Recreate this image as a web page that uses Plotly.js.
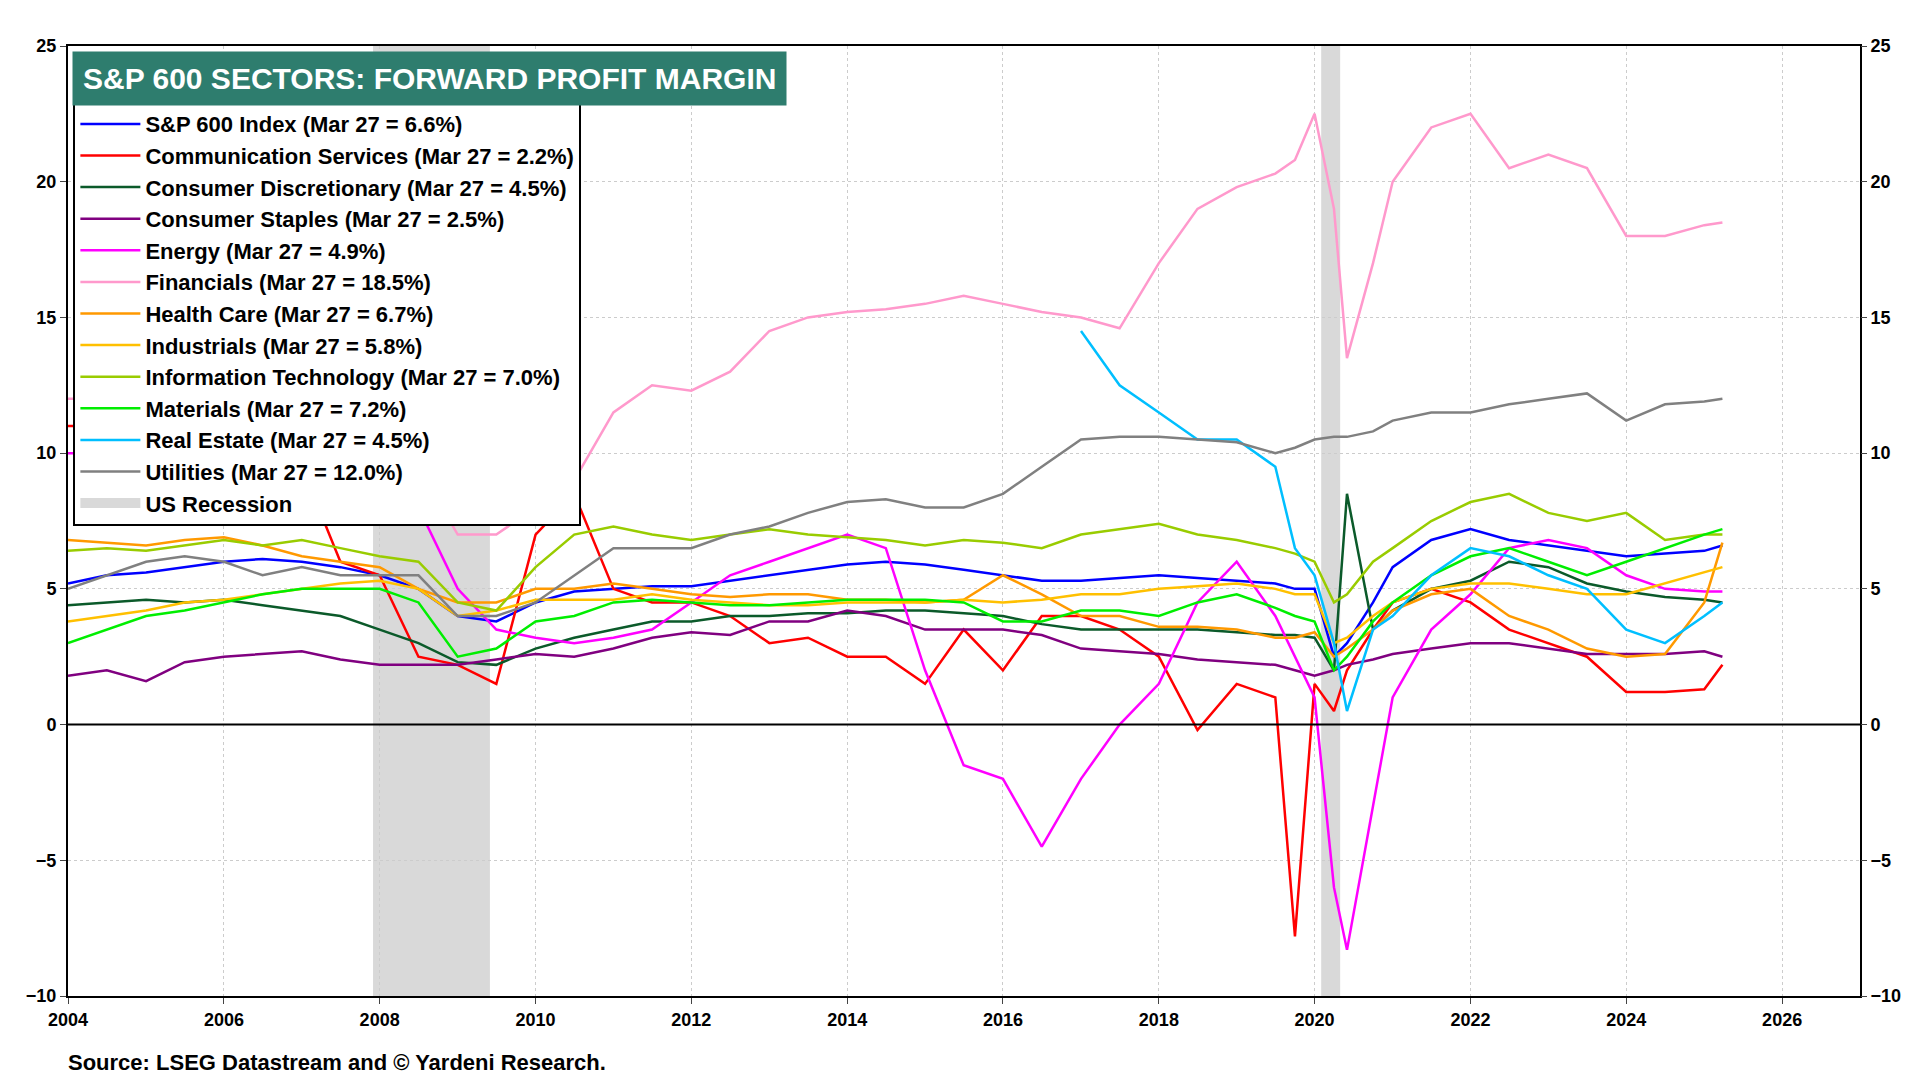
<!DOCTYPE html>
<html>
<head>
<meta charset="utf-8">
<script src="https://cdn.plot.ly/plotly-3.0.1.min.js"></script>
<style>body{margin:0;background:#fff}#graph{width:1920px;height:1080px}</style>
</head>
<body>
<div id="graph"></div>
<script>
// dates (hand-read sample points)
const dates = ["2004-01-01","2004-07-01","2005-01-01","2005-07-01","2006-01-01","2006-07-01","2007-01-01","2007-07-01",
  "2008-01-01","2008-07-01","2009-01-01","2009-07-01","2010-01-01","2010-07-01","2011-01-01","2011-07-01",
  "2012-01-01","2012-07-01","2013-01-01","2013-07-01","2014-01-01","2014-07-01","2015-01-01","2015-07-01",
  "2016-01-01","2016-07-01","2017-01-01","2017-07-01","2018-01-01","2018-07-01","2019-01-01","2019-07-01",
  "2019-10-01","2020-01-01","2020-04-01","2020-06-01","2020-10-01","2021-01-01","2021-07-01","2022-01-01",
  "2022-07-01","2023-01-01","2023-07-01","2024-01-01","2024-07-01","2025-01-01","2025-03-27"]

const sp600 = [5.2,5.5,5.6,5.8,6.0,6.1,6.0,5.8,5.5,5.0,4.0,3.8,4.5,4.9,5.0,5.1,5.1,5.3,5.5,5.7,5.9,6.0,5.9,5.7,5.5,5.3,5.3,5.4,5.5,5.4,5.3,5.2,5.0,5.0,2.5,3.0,4.5,5.8,6.8,7.2,6.8,6.6,6.4,6.2,6.3,6.4,6.6]
const commServ = [11,11,11,11,11,11,9.5,6,5.5,2.5,2.2,1.5,7,8.5,5,4.5,4.5,4,3,3.2,2.5,2.5,1.5,3.5,2,4,4,3.5,2.5,-0.2,1.5,1,-7.8,1.5,0.5,2,3.5,4.5,5,4.5,3.5,3,2.5,1.2,1.2,1.3,2.2]
const consDisc = [4.4,4.5,4.6,4.5,4.6,4.4,4.2,4.0,3.5,3.0,2.3,2.2,2.8,3.2,3.5,3.8,3.8,4.0,4.0,4.1,4.1,4.2,4.2,4.1,4.0,3.7,3.5,3.5,3.5,3.5,3.4,3.3,3.3,3.2,2.0,8.5,3.5,4.2,5.0,5.3,6.0,5.8,5.2,4.9,4.7,4.6,4.5]
const consStap = [1.8,2.0,1.6,2.3,2.5,2.6,2.7,2.4,2.2,2.2,2.2,2.4,2.6,2.5,2.8,3.2,3.4,3.3,3.8,3.8,4.2,4.0,3.5,3.5,3.5,3.3,2.8,2.7,2.6,2.4,2.3,2.2,2.0,1.8,2.0,2.2,2.4,2.6,2.8,3.0,3.0,2.8,2.6,2.6,2.6,2.7,2.5]
const energy = [10,10,10,10,10,10,9.5,9,8.5,8,5,3.5,3.2,3.0,3.2,3.5,4.5,5.5,6.0,6.5,7.0,6.5,2,-1.5,-2,-4.5,-2,0,1.5,4.5,6,4,2.5,1.0,-6,-8.3,-3,1,3.5,4.8,6.5,6.8,6.5,5.5,5.0,4.9,4.9]
const financials = [12,12,12,12,12,12,12,12,11,9.5,7,7,8,9,11.5,12.5,12.3,13,14.5,15,15.2,15.3,15.5,15.8,15.5,15.2,15,14.6,17,19,19.8,20.3,20.8,22.5,19,13.5,17,20,22,22.5,20.5,21,20.5,18,18.0,18.4,18.5]
const healthCare = [6.8,6.7,6.6,6.8,6.9,6.6,6.2,6.0,5.8,5.0,4.5,4.5,5.0,5.0,5.2,5.0,4.8,4.7,4.8,4.8,4.6,4.6,4.5,4.6,5.5,4.8,4.0,4.0,3.6,3.6,3.5,3.2,3.2,3.4,2.5,2.8,3.5,4.2,4.8,5.0,4.0,3.5,2.8,2.5,2.6,4.5,6.7]
const industrials = [3.8,4.0,4.2,4.5,4.6,4.8,5.0,5.2,5.3,5.0,4.0,4.2,4.6,4.6,4.6,4.8,4.6,4.5,4.4,4.4,4.5,4.5,4.5,4.6,4.5,4.6,4.8,4.8,5.0,5.1,5.2,5.0,4.8,4.8,3.0,3.2,4.0,4.5,5.0,5.2,5.2,5.0,4.8,4.8,5.2,5.6,5.8]
const infoTech = [6.4,6.5,6.4,6.6,6.8,6.6,6.8,6.5,6.2,6.0,4.5,4.2,5.8,7.0,7.3,7.0,6.8,7.0,7.2,7.0,6.9,6.8,6.6,6.8,6.7,6.5,7.0,7.2,7.4,7.0,6.8,6.5,6.3,6.0,4.5,4.8,6.0,6.5,7.5,8.2,8.5,7.8,7.5,7.8,6.8,7.0,7.0]
const materials = [3.0,3.5,4.0,4.2,4.5,4.8,5.0,5.0,5.0,4.5,2.5,2.8,3.8,4.0,4.5,4.6,4.5,4.4,4.4,4.5,4.6,4.6,4.6,4.5,3.8,3.8,4.2,4.2,4.0,4.5,4.8,4.3,4.0,3.8,2.0,2.5,3.8,4.5,5.5,6.2,6.5,6.0,5.5,6.0,6.5,7.0,7.2]
const realEstate = [null,null,null,null,null,null,null,null,null,null,null,null,null,null,null,null,null,null,null,null,null,null,null,null,null,null,14.5,12.5,11.5,10.5,10.5,9.5,6.5,5.5,3,0.5,3.5,4.0,5.5,6.5,6.2,5.5,5.0,3.5,3.0,4.0,4.5]
const utilities = [5.0,5.5,6.0,6.2,6.0,5.5,5.8,5.5,5.5,5.5,4.0,4.0,4.5,5.5,6.5,6.5,6.5,7.0,7.3,7.8,8.2,8.3,8.0,8.0,8.5,9.5,10.5,10.6,10.6,10.5,10.4,10.0,10.2,10.5,10.6,10.6,10.8,11.2,11.5,11.5,11.8,12.0,12.2,11.2,11.8,11.9,12.0]

const recessions = [["2007-12-01","2009-06-01"],["2020-02-01","2020-04-30"]]

const series = [
  ["S&P 600 Index (Mar 27 = 6.6%)", sp600, "#0000ff"],
  ["Communication Services (Mar 27 = 2.2%)", commServ, "#ff0000"],
  ["Consumer Discretionary (Mar 27 = 4.5%)", consDisc, "#0b5a2a"],
  ["Consumer Staples (Mar 27 = 2.5%)", consStap, "#800080"],
  ["Energy (Mar 27 = 4.9%)", energy, "#ff00ff"],
  ["Financials (Mar 27 = 18.5%)", financials, "#ff99cc"],
  ["Health Care (Mar 27 = 6.7%)", healthCare, "#ff9900"],
  ["Industrials (Mar 27 = 5.8%)", industrials, "#ffc000"],
  ["Information Technology (Mar 27 = 7.0%)", infoTech, "#99cc00"],
  ["Materials (Mar 27 = 7.2%)", materials, "#00ee00"],
  ["Real Estate (Mar 27 = 4.5%)", realEstate, "#00bfff"],
  ["Utilities (Mar 27 = 12.0%)", utilities, "#808080"]
]

const traces = series.map(s => ({
  x: dates, y: s[1], name: s[0], type: "scatter", mode: "lines",
  line: { color: s[2], width: 2.5 }
}))
traces.push({ x: [null], y: [null], name: "US Recession", type: "scatter", mode: "lines",
  line: { color: "#d9d9d9", width: 14 } })
traces.push({ x: [dates[0]], y: [null], yaxis: "y2", showlegend: false, hoverinfo: "skip", type: "scatter" })

const shapes = recessions.map(r => ({
  type: "rect", xref: "x", yref: "paper", x0: r[0], x1: r[1], y0: 0, y1: 1,
  fillcolor: "#d9d9d9", line: { width: 0 }, layer: "below"
}))
shapes.push({ type: "line", xref: "paper", yref: "y", x0: 0, x1: 1, y0: 0, y1: 0, line: { color: "#000", width: 2 } })

const tickFont = { family: "Liberation Sans, Arial", size: 18, color: "#000", weight: "bold" }
const layout = {
  width: 1920, height: 1080,
  margin: { l: 68, r: 60, t: 46, b: 84 },
  plot_bgcolor: "#fff", paper_bgcolor: "#fff",
  font: { family: "Liberation Sans, Arial", color: "#000" },
  showlegend: true,
  legend: { x: 0.003, y: 0.942, xanchor: "left", yanchor: "top", bgcolor: "#fff",
    bordercolor: "#000", borderwidth: 2, tracegroupgap: 0, itemwidth: 60,
    font: { size: 22, weight: "bold", family: "Liberation Sans, Arial" } },
  xaxis: { type: "date", range: ["2004-01-01", "2027-01-01"], dtick: "M24", tick0: "2004-01-01",
    tickformat: "%Y", ticks: "outside", ticklen: 6, tickfont: tickFont,
    showgrid: true, gridcolor: "#cccccc", griddash: "dot",
    showline: true, linecolor: "#000", linewidth: 2, mirror: true, zeroline: false },
  yaxis: { range: [-10, 25], dtick: 5, tickfont: tickFont, ticks: "outside", ticklen: 6,
    showgrid: true, gridcolor: "#cccccc", griddash: "dot",
    showline: true, linecolor: "#000", linewidth: 2, mirror: true, zeroline: false },
  yaxis2: { range: [-10, 25], dtick: 5, tickfont: tickFont, overlaying: "y", side: "right",
    ticks: "outside", ticklen: 6, showgrid: false, zeroline: false },
  shapes: shapes,
  annotations: [
    { xref: "paper", yref: "paper", x: 0.002, y: 0.995, xanchor: "left", yanchor: "top",
      text: "S&P 600 SECTORS: FORWARD PROFIT MARGIN", showarrow: false,
      font: { size: 30, color: "#fff", weight: "bold" }, bgcolor: "#2e7d6e",
      borderpad: 10 },
    { xref: "paper", yref: "paper", x: -0.001, y: -0.055, xanchor: "left", yanchor: "top",
      text: "Source: LSEG Datastream and © Yardeni Research.", showarrow: false,
      font: { size: 22, weight: "bold" } }
  ]
}

Plotly.newPlot("graph", traces, layout, { displayModeBar: false })
</script>
</body>
</html>
